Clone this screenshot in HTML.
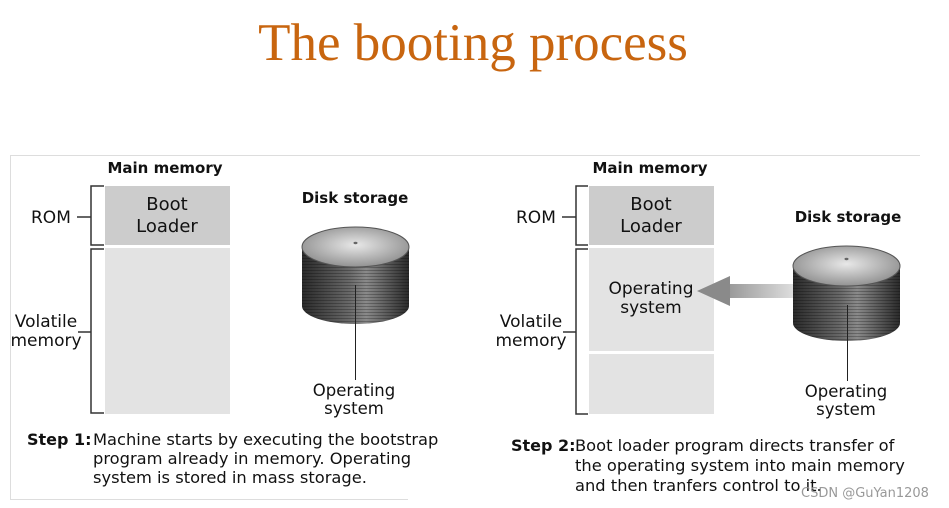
<!DOCTYPE html>
<html><head><meta charset="utf-8"><style>
body{margin:0;width:949px;height:508px;background:#fff;overflow:hidden}
svg{display:block}
text{font-family:"DejaVu Sans","Liberation Sans",sans-serif;fill:#111}
</style></head><body>
<svg width="949" height="508" viewBox="0 0 949 508">
<defs>
<linearGradient id="cyl" x1="0" x2="1" y1="0" y2="0">
<stop offset="0" stop-color="#2a2a2a"/><stop offset="0.45" stop-color="#6a6a6a"/><stop offset="0.6" stop-color="#8a8a8a"/><stop offset="1" stop-color="#2a2a2a"/>
</linearGradient>
<radialGradient id="top" cx="0.5" cy="0.45" r="0.6">
<stop offset="0" stop-color="#e8e8e8"/><stop offset="1" stop-color="#8a8a8a"/>
</radialGradient>
<pattern id="lines" width="4" height="3" patternUnits="userSpaceOnUse">
<rect width="4" height="1" fill="#000" opacity="0.25"/>
</pattern>
<linearGradient id="shaft" x1="0" x2="1">
<stop offset="0" stop-color="#999"/><stop offset="1" stop-color="#ddd"/>
</linearGradient>
</defs>
<text x="473" y="60" text-anchor="middle" style="font-family:'Liberation Serif',serif;font-size:53px;fill:#c8650f">The booting process</text>
<line x1="10" y1="155.5" x2="920" y2="155.5" stroke="#ddd"/>
<line x1="10.5" y1="155" x2="10.5" y2="500" stroke="#ddd"/>
<line x1="10" y1="499.5" x2="408" y2="499.5" stroke="#ddd"/>

<!-- Left panel -->
<text x="165" y="173" text-anchor="middle" font-size="15" font-weight="bold">Main memory</text>
<rect x="105" y="186" width="125" height="59" fill="#cccccc"/>
<rect x="105" y="248" width="125" height="166" fill="#e3e3e3"/>
<text x="167" y="210" text-anchor="middle" font-size="18">Boot</text>
<text x="167" y="232" text-anchor="middle" font-size="18">Loader</text>
<path d="M104 186H91V245H104M104 249H91V413H104" fill="none" stroke="#333" stroke-width="1.5"/>
<line x1="77" y1="217" x2="91" y2="217" stroke="#333" stroke-width="1.5"/>
<line x1="78" y1="332" x2="91" y2="332" stroke="#333" stroke-width="1.5"/>
<text x="31" y="223" font-size="17">ROM</text>
<text x="46" y="327" text-anchor="middle" font-size="17">Volatile</text>
<text x="46" y="346" text-anchor="middle" font-size="17">memory</text>
<text x="355" y="203" text-anchor="middle" font-size="15" font-weight="bold">Disk storage</text>
<path d="M302 247V306A53.5 18 0 0 0 409 306V247Z" fill="url(#cyl)"/>
<path d="M302 247V306A53.5 18 0 0 0 409 306V247Z" fill="url(#lines)"/>
<ellipse cx="355.5" cy="247" rx="53.5" ry="20" fill="url(#top)" stroke="#555"/>
<ellipse cx="355.5" cy="243" rx="2" ry="1.2" fill="#666"/>
<line x1="355.5" y1="285" x2="355.5" y2="380" stroke="#222"/>
<text x="354" y="396" text-anchor="middle" font-size="16.5">Operating</text>
<text x="354" y="414" text-anchor="middle" font-size="16.5">system</text>
<text x="27" y="445" font-size="16" font-weight="bold">Step 1:</text>
<text x="93" y="445" font-size="16.3">Machine starts by executing the bootstrap</text>
<text x="93" y="464" font-size="16.3">program already in memory. Operating</text>
<text x="93" y="483" font-size="16.3">system is stored in mass storage.</text>

<!-- Right panel -->
<text x="650" y="173" text-anchor="middle" font-size="15" font-weight="bold">Main memory</text>
<rect x="589" y="186" width="125" height="59" fill="#cccccc"/>
<rect x="589" y="248" width="125" height="103" fill="#e3e3e3"/>
<rect x="589" y="354" width="125" height="60" fill="#e3e3e3"/>
<text x="651" y="210" text-anchor="middle" font-size="18">Boot</text>
<text x="651" y="232" text-anchor="middle" font-size="18">Loader</text>
<path d="M588 186H576V245H588M588 249H576V414H588" fill="none" stroke="#333" stroke-width="1.5"/>
<line x1="562" y1="217" x2="576" y2="217" stroke="#333" stroke-width="1.5"/>
<line x1="563" y1="332" x2="576" y2="332" stroke="#333" stroke-width="1.5"/>
<text x="516" y="223" font-size="17">ROM</text>
<text x="531" y="327" text-anchor="middle" font-size="17">Volatile</text>
<text x="531" y="346" text-anchor="middle" font-size="17">memory</text>
<text x="651" y="294" text-anchor="middle" font-size="17">Operating</text>
<text x="651" y="313" text-anchor="middle" font-size="17">system</text>
<rect x="729" y="284" width="64" height="14" fill="url(#shaft)"/>
<path d="M697 291L730 276V306Z" fill="#8a8a8a"/>
<text x="848" y="222" text-anchor="middle" font-size="15" font-weight="bold">Disk storage</text>
<path d="M793 266V323A53.5 18 0 0 0 900 323V266Z" fill="url(#cyl)"/>
<path d="M793 266V323A53.5 18 0 0 0 900 323V266Z" fill="url(#lines)"/>
<ellipse cx="846.5" cy="266" rx="53.5" ry="20" fill="url(#top)" stroke="#555"/>
<ellipse cx="846.5" cy="259" rx="2" ry="1.2" fill="#666"/>
<line x1="847.5" y1="305" x2="847.5" y2="381" stroke="#222"/>
<text x="846" y="397" text-anchor="middle" font-size="16.5">Operating</text>
<text x="846" y="415" text-anchor="middle" font-size="16.5">system</text>
<text x="511" y="451" font-size="16" font-weight="bold">Step 2:</text>
<text x="575" y="451" font-size="16.3">Boot loader program directs transfer of</text>
<text x="575" y="471" font-size="16.3">the operating system into main memory</text>
<text x="575" y="491" font-size="16.3">and then tranfers control to it.</text>
<text x="801" y="497" font-size="13" style="fill:#999">CSDN @GuYan1208</text>
</svg>
</body></html>
